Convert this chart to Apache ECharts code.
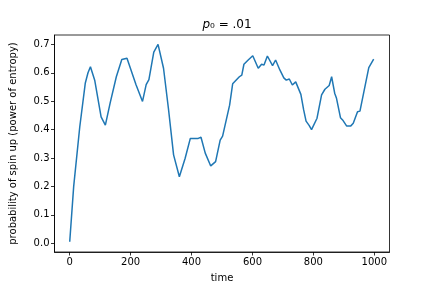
<!DOCTYPE html>
<html>
<head>
<meta charset="utf-8">
<script src="https://cdn.jsdelivr.net/npm/echarts@6/dist/echarts.min.js"></script>
<style>html,body{margin:0;padding:0;background:#fff}#c{width:432px;height:288px}</style>
</head>
<body>
<div id="c"></div>
<script>
var times = [0,13,33,51,60,68,82,103,117,133,153,171,188,192,218,239,251,260,276,290,308,324,341,360,379,396,422,431,445,463,479,494,502,525,535,557,565,572,586,601,619,630,638,649,666,676,690,703,711,721,731,742,759,768,776,786,794,812,827,838,852,860,870,876,889,896,902,909,923,931,945,953,982,998];
var values = [0.005,0.200,0.410,0.563,0.600,0.621,0.574,0.445,0.416,0.495,0.586,0.647,0.651,0.653,0.557,0.499,0.558,0.576,0.673,0.700,0.616,0.475,0.311,0.234,0.299,0.369,0.369,0.373,0.317,0.272,0.287,0.363,0.377,0.486,0.561,0.586,0.592,0.630,0.645,0.660,0.616,0.630,0.627,0.659,0.625,0.645,0.610,0.582,0.574,0.578,0.557,0.568,0.524,0.470,0.430,0.415,0.400,0.440,0.522,0.542,0.555,0.586,0.528,0.510,0.442,0.434,0.436,0.413,0.413,0.422,0.463,0.465,0.618,0.648];
var xTicks = [0,200,400,600,800,1000];
var yTicks = [0,0.1,0.2,0.3,0.4,0.5,0.6,0.7];
var titleText = '{i|p}₀ = .01';
var xName = 'time';
var yName = 'probability of spin up (power of entropy)';

var data = times.map(function(t,i){return [t, values[i]];});
var font = 'DejaVu Sans';
var chart = echarts.init(document.getElementById('c'), null, {renderer:'canvas'});
chart.setOption({
  animation:false,
  backgroundColor:'#fff',
  title:{
    text:titleText, left:222, top:14, textAlign:'center',
    textStyle:{fontFamily:font, fontSize:12, fontWeight:'normal', color:'#000',
      rich:{i:{fontFamily:font, fontSize:12, fontStyle:'italic', color:'#000'}}}
  },
  grid:{left:54.5, right:42.5, top:35, bottom:35.7, show:true, borderColor:'#000', borderWidth:0.8, backgroundColor:'transparent'},
  xAxis:{
    type:'value', min:-50, max:1050,
    name:xName, nameLocation:'middle', nameGap:21,
    nameTextStyle:{fontFamily:font, fontSize:10, color:'#000'},
    axisLine:{show:true, onZero:false, lineStyle:{color:'#000', width:0.8}},
    axisTick:{show:true, length:3.5, lineStyle:{color:'#000', width:0.8}, customValues:xTicks},
    axisLabel:{fontFamily:font, fontSize:10, color:'#000', margin:5, customValues:xTicks,
      formatter:function(v){return String(v);}},
    splitLine:{show:false}
  },
  yAxis:{
    type:'value', min:-0.031, max:0.733,
    name:yName, nameLocation:'middle', nameGap:36, nameRotate:90,
    nameTextStyle:{fontFamily:font, fontSize:10, color:'#000'},
    axisLine:{show:true, onZero:false, lineStyle:{color:'#000', width:0.8}},
    axisTick:{show:true, length:3.5, lineStyle:{color:'#000', width:0.8}, customValues:yTicks},
    axisLabel:{fontFamily:font, fontSize:10, color:'#000', margin:5, customValues:yTicks,
      formatter:function(v){return v.toFixed(1);}},
    splitLine:{show:false}
  },
  series:[{
    type:'line', data:data, showSymbol:false, symbol:'none',
    lineStyle:{color:'#1f77b4', width:1.5}, itemStyle:{color:'#1f77b4'}
  }]
});
</script>
</body>
</html>
